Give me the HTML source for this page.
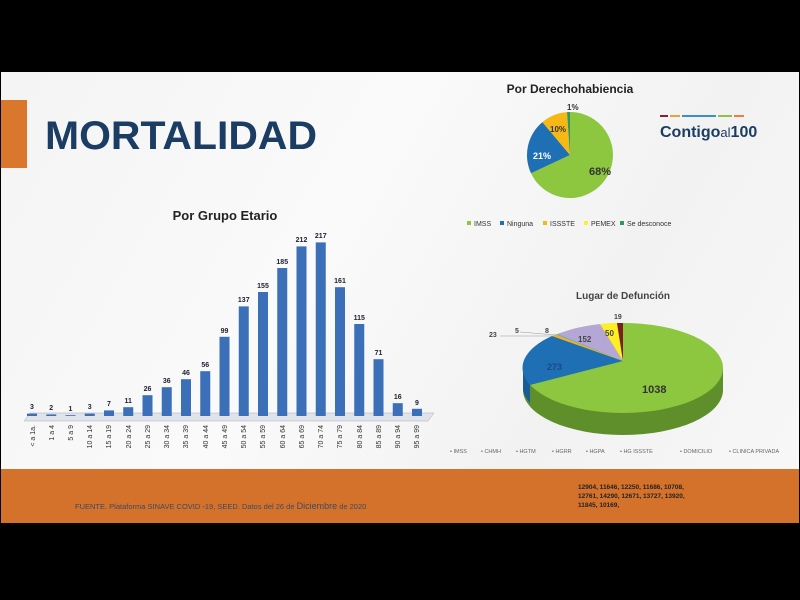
<!DOCTYPE html>
<html><head><meta charset="utf-8"><style>
body{margin:0;width:800px;height:600px;background:#000;overflow:hidden;font-family:"Liberation Sans",sans-serif}
#slide{position:absolute;left:1px;top:72px;width:798px;height:451px;background:linear-gradient(120deg,#f4f4f4,#fafafa 40%,#f2f2f2 70%,#f8f8f8)}
</style></head><body>
<div id="slide">
<svg width="798" height="451" viewBox="1 72 798 451" style="position:absolute;left:0;top:0" font-family="Liberation Sans, sans-serif">
<rect x="1" y="100" width="26" height="68" fill="#d9782d"/>
<text x="45" y="149" font-size="40" font-weight="bold" fill="#1c3d63" textLength="272" lengthAdjust="spacingAndGlyphs">MORTALIDAD</text>
<rect x="660" y="115" width="8" height="2" fill="#8b1d3a"/><rect x="670" y="115" width="10" height="2" fill="#e8a23a"/><rect x="682" y="115" width="34" height="2" fill="#3a8fc9"/><rect x="718" y="115" width="14" height="2" fill="#8dbf4a"/><rect x="734" y="115" width="10" height="2" fill="#e0824a"/>
<text x="660" y="137" font-size="16" font-weight="bold" fill="#1c3d63">Contigo<tspan font-size="13" font-weight="normal">al</tspan>100</text>
<text x="570" y="93" font-size="12" font-weight="bold" text-anchor="middle" fill="#222">Por Derechohabiencia</text>
<path d="M570,155 L570,112 A43,43 0 1 1 531,173.2 Z" fill="#8dc63f"/>
<path d="M570,155 L531,173.2 A43,43 0 0 1 542.4,122.1 Z" fill="#1f6fb5"/>
<path d="M570,155 L542.4,122.1 A43,43 0 0 1 567,112.1 Z" fill="#f5b815"/>
<path d="M570,155 L567,112.1 A43,43 0 0 1 570,112 Z" fill="#2e9a5a"/>
<text x="589" y="175" font-size="11" font-weight="bold" fill="#333">68%</text>
<text x="533" y="159" font-size="9" font-weight="bold" fill="#fff">21%</text>
<text x="550" y="132" font-size="8" font-weight="bold" fill="#333">10%</text>
<text x="567" y="110" font-size="8" font-weight="bold" fill="#333">1%</text>
<g font-size="7" fill="#333">
<rect x="467" y="221" width="4" height="4" fill="#8dc63f"/><text x="474" y="226">IMSS</text>
<rect x="500" y="221" width="4" height="4" fill="#1f6fb5"/><text x="507" y="226">Ninguna</text>
<rect x="543" y="221" width="4" height="4" fill="#f5b815"/><text x="550" y="226">ISSSTE</text>
<rect x="584" y="221" width="4" height="4" fill="#ffee33"/><text x="591" y="226">PEMEX</text>
<rect x="620" y="221" width="4" height="4" fill="#2e9a5a"/><text x="627" y="226">Se desconoce</text>
</g>
<text x="225" y="220" font-size="13" font-weight="bold" text-anchor="middle" fill="#222">Por Grupo Etario</text>
<polygon points="24,421 428,421 434,413 30,413" fill="#e0e4ea" stroke="#aab" stroke-width="0.5"/>
<g fill="#3b6fb8">
<rect x="27" y="413.6" width="10" height="2.4"/><rect x="46.25" y="414.4" width="10" height="1.6"/><rect x="65.5" y="415.2" width="10" height="0.8"/><rect x="84.75" y="413.6" width="10" height="2.4"/><rect x="104" y="410.4" width="10" height="5.6"/><rect x="123.25" y="407.2" width="10" height="8.8"/><rect x="142.5" y="395.2" width="10" height="20.8"/><rect x="161.75" y="387.2" width="10" height="28.8"/><rect x="181" y="379.2" width="10" height="36.8"/><rect x="200.25" y="371.2" width="10" height="44.8"/><rect x="219.5" y="336.8" width="10" height="79.2"/><rect x="238.75" y="306.4" width="10" height="109.6"/><rect x="258" y="292" width="10" height="124"/><rect x="277.25" y="268" width="10" height="148"/><rect x="296.5" y="246.4" width="10" height="169.6"/><rect x="315.75" y="242.4" width="10" height="173.6"/><rect x="335" y="287.2" width="10" height="128.8"/><rect x="354.25" y="324" width="10" height="92"/><rect x="373.5" y="359.2" width="10" height="56.8"/><rect x="392.75" y="403.2" width="10" height="12.8"/><rect x="412" y="408.8" width="10" height="7.2"/>
</g>
<g font-size="7" font-weight="bold" fill="#223" text-anchor="middle">
<text x="32" y="409">3</text><text x="51.25" y="410">2</text><text x="70.5" y="411">1</text><text x="89.75" y="409">3</text><text x="109" y="406">7</text><text x="128.25" y="403">11</text><text x="147.5" y="391">26</text><text x="166.75" y="383">36</text><text x="186" y="375">46</text><text x="205.25" y="367">56</text><text x="224.5" y="333">99</text><text x="243.75" y="302">137</text><text x="263" y="288">155</text><text x="282.25" y="264">185</text><text x="301.5" y="242">212</text><text x="320.75" y="238">217</text><text x="340" y="283">161</text><text x="359.25" y="320">115</text><text x="378.5" y="355">71</text><text x="397.75" y="399">16</text><text x="417" y="405">9</text>
</g>
<g font-size="7" fill="#333" text-anchor="end">
<text transform="translate(35,425) rotate(-90)">&lt; a 1a.</text><text transform="translate(54,425) rotate(-90)">1 a 4</text><text transform="translate(73,425) rotate(-90)">5 a 9</text><text transform="translate(92,425) rotate(-90)">10 a 14</text><text transform="translate(111,425) rotate(-90)">15 a 19</text><text transform="translate(131,425) rotate(-90)">20 a 24</text><text transform="translate(150,425) rotate(-90)">25 a 29</text><text transform="translate(169,425) rotate(-90)">30 a 34</text><text transform="translate(188,425) rotate(-90)">35 a 39</text><text transform="translate(208,425) rotate(-90)">40 a 44</text><text transform="translate(227,425) rotate(-90)">45 a 49</text><text transform="translate(246,425) rotate(-90)">50 a 54</text><text transform="translate(265,425) rotate(-90)">55 a 59</text><text transform="translate(285,425) rotate(-90)">60 a 64</text><text transform="translate(304,425) rotate(-90)">65 a 69</text><text transform="translate(323,425) rotate(-90)">70 a 74</text><text transform="translate(342,425) rotate(-90)">75 a 79</text><text transform="translate(362,425) rotate(-90)">80 a 84</text><text transform="translate(381,425) rotate(-90)">85 a 89</text><text transform="translate(400,425) rotate(-90)">90 a 94</text><text transform="translate(419,425) rotate(-90)">95 a 99</text>
</g>
<!-- 3D pie -->
<text x="623" y="299" font-size="10" font-weight="bold" text-anchor="middle" fill="#444">Lugar de Defunción</text>
<path d="M523,368 L523,390 A100,45 0 0 0 723,390 L723,368 Z" fill="#5e8f2a"/>
<path d="M523,368 L523,390 A100,45 0 0 0 530,403 L530,385 Z" fill="#1a5a95"/>
<ellipse cx="623" cy="368" rx="100" ry="45" fill="#8dc63f"/>
<path d="M623,361 L530,385 A100,45 0 0 1 552,336 Z" fill="#1f6fb5"/>
<path d="M623,361 L552,336 A100,45 0 0 1 556,334.5 Z" fill="#f0b020"/>
<path d="M623,361 L556,334.5 A100,45 0 0 1 558,334 Z" fill="#6fa8dc"/>
<path d="M623,361 L558,334 A100,45 0 0 1 600,324 Z" fill="#b4a7d6"/>
<path d="M623,361 L600,324 A100,45 0 0 1 617,323 Z" fill="#ffee22"/>
<path d="M623,361 L617,323 A100,45 0 0 1 623,323 Z" fill="#7a1f1f"/>
<text x="642" y="393" font-size="11" font-weight="bold" fill="#333">1038</text>
<text x="547" y="370" font-size="9" font-weight="bold" fill="#1a4a80">273</text>
<text x="578" y="342" font-size="8" font-weight="bold" fill="#444">152</text>
<text x="605" y="336" font-size="8" font-weight="bold" fill="#444">50</text>
<text x="614" y="319" font-size="7" font-weight="bold" fill="#444">19</text>
<text x="489" y="337" font-size="7" font-weight="bold" fill="#444">23</text>
<text x="515" y="333" font-size="7" font-weight="bold" fill="#444">5</text>
<text x="545" y="333" font-size="7" font-weight="bold" fill="#444">8</text>
<line x1="500" y1="336" x2="554" y2="336" stroke="#999" stroke-width="0.5"/>
<line x1="520" y1="332" x2="556" y2="335" stroke="#999" stroke-width="0.5"/>
<g font-size="5.5" fill="#666">
<text x="450" y="453">• IMSS</text><text x="481" y="453">• CHMH</text><text x="516" y="453">• HGTM</text><text x="552" y="453">• HGRR</text><text x="586" y="453">• HGPA</text><text x="620" y="453">• HG ISSSTE</text><text x="680" y="453">• DOMICILIO</text><text x="729" y="453">• CLINICA PRIVADA</text>
</g>
<rect x="1" y="469" width="798" height="54" fill="#d4722c"/>
<text x="75" y="509" font-size="7.5" fill="#3b4a66">FUENTE. Plataforma SINAVE COVID -19, SEED. Datos del 26 de <tspan font-size="9">Diciembre</tspan> de 2020</text>
<g font-size="6.5" font-weight="bold" fill="#222">
<text x="578" y="489">12904, 11646, 12250, 11686, 10708,</text>
<text x="578" y="498">12761, 14290, 12671, 13727, 13920,</text>
<text x="578" y="507">11845, 10169,</text>
</g>
</svg>
</div>
</body></html>
